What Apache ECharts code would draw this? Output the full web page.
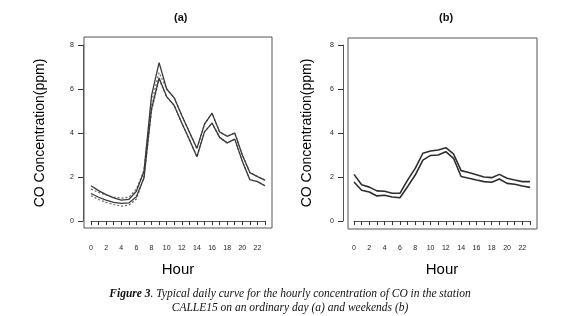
<!DOCTYPE html>
<html>
<head>
<meta charset="utf-8">
<script src="https://cdn.jsdelivr.net/npm/echarts@6/dist/echarts.min.js"></script>
<style>
  html, body { margin: 0; background: #fff; }
  #chart { width: 580px; height: 316px; }
</style>
</head>
<body>
<div id="chart"></div>
<script>
const hours = ['0', '1', '2', '3', '4', '5', '6', '7', '8', '9', '10', '11',
  '12', '13', '14', '15', '16', '17', '18', '19', '20', '21', '22', '23'];

// (a) ordinary day
const aUpper = [1.6, 1.38, 1.2, 1.05, 0.95, 0.98, 1.35, 2.25, 5.7, 7.2, 6.0, 5.6,
  4.8, 4.05, 3.3, 4.4, 4.9, 4.05, 3.85, 4.0, 3.0, 2.2, 2.02, 1.86];
const aLower = [1.25, 1.08, 0.95, 0.85, 0.8, 0.82, 1.1, 1.95, 5.1, 6.5, 5.65, 5.25,
  4.45, 3.7, 2.92, 4.05, 4.45, 3.8, 3.55, 3.72, 2.72, 1.88, 1.79, 1.6];
const aDashUpper = [1.45, 1.3, 1.18, 1.08, 1.04, 1.08, 1.45, 2.3, 5.4, 6.75, 6.0, 5.6,
  4.8, 4.05, 3.3, 4.4, 4.9, 4.05, 3.85, 4.0, 3.0, 2.2, 2.02, 1.86];
const aDashLower = [1.15, 0.98, 0.85, 0.75, 0.68, 0.72, 1.0, 2.0, 5.0, 6.45, 5.65, 5.25,
  4.45, 3.7, 2.92, 4.05, 4.45, 3.8, 3.55, 3.72, 2.72, 1.88, 1.79, 1.6];

// (b) weekends
const bUpper = [2.12, 1.65, 1.54, 1.37, 1.35, 1.26, 1.26, 1.86, 2.39, 3.08, 3.18, 3.23,
  3.33, 3.05, 2.29, 2.2, 2.1, 2.0, 1.97, 2.12, 1.94, 1.86, 1.79, 1.79];
const bLower = [1.77, 1.4, 1.32, 1.14, 1.17, 1.09, 1.06, 1.56, 2.09, 2.77, 2.98, 3.0,
  3.15, 2.85, 2.02, 1.94, 1.86, 1.79, 1.76, 1.91, 1.71, 1.67, 1.59, 1.53];

const sans = 'Liberation Sans, Arial, sans-serif';
const serif = 'Liberation Serif, Times New Roman, serif';
const axisGrey = '#555';

function dataX(gridIndex) {
  return {
    gridIndex,
    type: 'category',
    data: hours,
    boundaryGap: false,
    offset: 9,
    axisLine: { lineStyle: { color: axisGrey, width: 1 } },
    axisTick: { interval: 0, length: 4, lineStyle: { color: '#333' } },
    axisLabel: { interval: 1, margin: 15, fontSize: 7, color: '#222', fontFamily: sans },
    splitLine: { show: false },
    name: 'Hour',
    nameLocation: 'middle',
    nameGap: 32,
    nameTextStyle: { fontSize: 15, color: '#000', fontFamily: sans }
  };
}

function dataY(gridIndex, offset, nameGap) {
  return {
    gridIndex,
    type: 'value',
    min: 0,
    max: 8,
    interval: 2,
    offset,
    axisLine: { show: true, lineStyle: { color: axisGrey, width: 1 } },
    axisTick: { show: true, length: 5, lineStyle: { color: '#333' } },
    axisLabel: { margin: 9, fontSize: 7, color: '#222', fontFamily: sans },
    splitLine: { show: false },
    name: 'CO Concentration(ppm)',
    nameLocation: 'middle',
    nameRotate: 90,
    nameGap,
    nameTextStyle: { fontSize: 14, color: '#000', fontFamily: sans }
  };
}

function line(xi, values, color, width, type) {
  return {
    type: 'line',
    xAxisIndex: xi,
    yAxisIndex: xi,
    data: values,
    symbol: 'none',
    silent: true,
    lineStyle: { color, width, type }
  };
}

const chart = echarts.init(document.getElementById('chart'), null, { renderer: 'canvas' });

chart.setOption({
  animation: false,
  backgroundColor: '#fff',
  title: [
    { text: '(a)', left: 169, top: 7, textStyle: { fontSize: 11, fontWeight: 'bold', color: '#111', fontFamily: sans } },
    { text: '(b)', left: 434, top: 7, textStyle: { fontSize: 11, fontWeight: 'bold', color: '#111', fontFamily: sans } },
    {
      text: '{b|Figure 3}. Typical daily curve for the hourly concentration of CO in the station\nCALLE15 on an ordinary day (a) and weekends (b)',
      left: 'center',
      top: 282,
      textStyle: {
        fontSize: 11.5, fontStyle: 'italic', fontWeight: 'normal', color: '#111',
        fontFamily: serif, lineHeight: 14,
        rich: { b: { fontSize: 11.5, fontStyle: 'italic', fontWeight: 'bold', fontFamily: serif, color: '#111' } }
      }
    }
  ],
  grid: [
    { left: 84, top: 37, width: 188, height: 191, show: true, borderColor: '#555', borderWidth: 1, backgroundColor: 'transparent' },
    { left: 91, top: 45, width: 174, height: 176 },
    { left: 348, top: 38, width: 189, height: 191, show: true, borderColor: '#555', borderWidth: 1, backgroundColor: 'transparent' },
    { left: 354, top: 45, width: 176, height: 176 }
  ],
  xAxis: [
    { gridIndex: 0, type: 'value', show: false },
    dataX(1),
    { gridIndex: 2, type: 'value', show: false },
    dataX(3)
  ],
  yAxis: [
    { gridIndex: 0, type: 'value', show: false },
    dataY(1, 8, 36),
    { gridIndex: 2, type: 'value', show: false },
    dataY(3, 11, 29)
  ],
  series: [
    line(1, aDashUpper, '#666', 1.2, [2, 2]),
    line(1, aDashLower, '#666', 1.2, [2, 2]),
    line(1, aUpper, '#3a3a3a', 1.3, 'solid'),
    line(1, aLower, '#3a3a3a', 1.3, 'solid'),
    line(3, bUpper, '#2e2e2e', 1.6, 'solid'),
    line(3, bLower, '#2e2e2e', 1.6, 'solid')
  ]
});
</script>
</body>
</html>
